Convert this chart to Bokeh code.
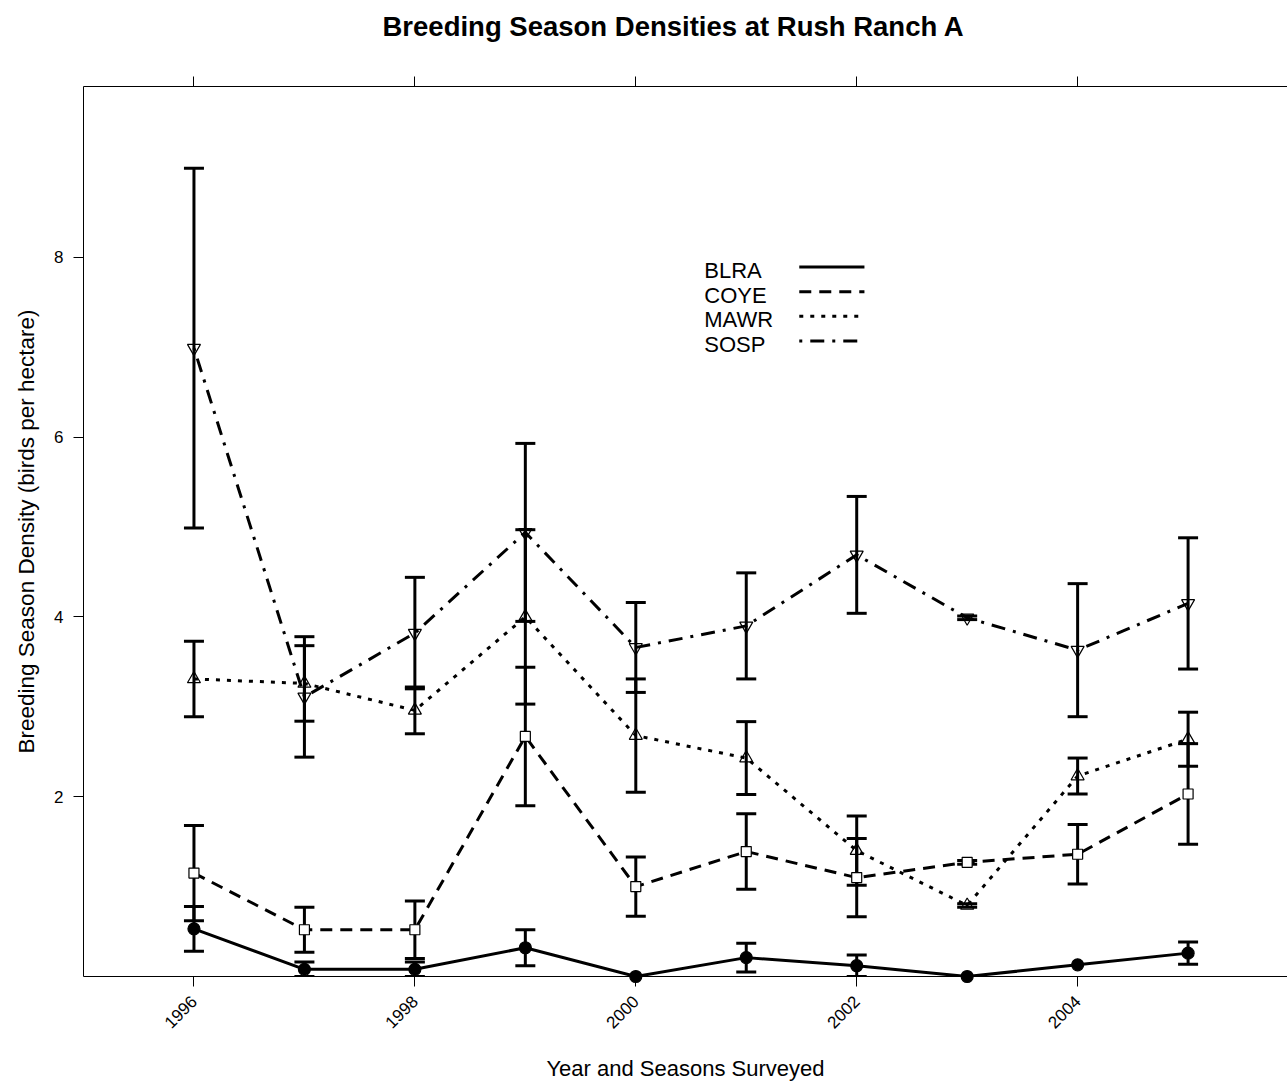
from bokeh.plotting import figure
from bokeh.models import (Range1d, LinearAxis, FixedTicker, Whisker, TeeHead,
                          ColumnDataSource, Title)
from bokeh.core.properties import value
from bokeh.embed import file_html
from bokeh.resources import INLINE
import math

# Survey years
years = [1996, 1997, 1998, 1999, 2000, 2001, 2002, 2003, 2004, 2005]

# Mean breeding season densities (birds per hectare) and their error half-widths
blra = [0.53, 0.08, 0.08, 0.32, 0.00, 0.21, 0.12, 0.00, 0.13, 0.26]
blra_err = [0.25, 0.08, 0.08, 0.20, 0.00, 0.16, 0.12, 0.00, 0.00, 0.125]

coye = [1.15, 0.52, 0.52, 2.67, 1.00, 1.39, 1.10, 1.27, 1.36, 2.03]
coye_err = [0.53, 0.25, 0.32, 0.77, 0.33, 0.42, 0.435, 0.02, 0.33, 0.56]

mawr = [3.31, 3.26, 2.96, 4.00, 2.68, 2.43, 1.40, 0.79, 2.23, 2.64]
mawr_err = [0.42, 0.42, 0.26, 0.97, 0.63, 0.405, 0.385, 0.02, 0.20, 0.30]

sosp = [6.99, 3.11, 3.82, 4.94, 3.66, 3.90, 4.69, 3.99, 3.63, 4.15]
sosp_err = [2.00, 0.67, 0.62, 0.99, 0.50, 0.59, 0.65, 0.02, 0.74, 0.73]

species = ["BLRA", "COYE", "MAWR", "SOSP"]
x_ticks = [1996, 1998, 2000, 2002, 2004]
y_ticks = [2, 4, 6, 8]

FONT = "Liberation Sans"

p = figure(width=1287, height=1085,
           x_range=Range1d(1995, 2005.9), y_range=Range1d(0, 9.9),
           x_axis_type=None, y_axis_type=None,
           output_backend="svg", toolbar_location=None,
           min_border_left=83, min_border_right=0,
           min_border_top=86, min_border_bottom=109,
           background_fill_color="white", border_fill_color="white")
p.outline_line_color = None
p.xgrid.visible = False
p.ygrid.visible = False


def style_axis(ax):
    ax.axis_line_color = "black"
    ax.axis_line_width = 1
    ax.major_tick_line_color = "black"
    ax.major_tick_out = 10
    ax.major_tick_in = 0
    ax.minor_tick_line_color = None
    ax.major_label_text_font = FONT
    ax.major_label_text_color = "black"
    ax.axis_label_text_font = FONT
    ax.axis_label_text_font_style = "normal"
    ax.axis_label_text_color = "black"


bottom = LinearAxis(ticker=FixedTicker(ticks=x_ticks),
                    axis_label="Year and Seasons Surveyed")
style_axis(bottom)
bottom.major_label_text_font_size = "17px"
bottom.major_label_orientation = math.pi / 4
bottom.major_label_standoff = 12
bottom.axis_label_text_font_size = "22px"
bottom.axis_label_standoff = 19
p.add_layout(bottom, "below")

# Upper frame edge with tick marks only
top = LinearAxis(ticker=FixedTicker(ticks=x_ticks))
style_axis(top)
top.major_label_text_color = None
top.major_label_standoff = 0
p.add_layout(top, "above")

# Blank gap between the upper tick marks and the title
p.add_layout(Title(text=" ", text_font_size="10px", standoff=17), "above")

# Title
p.title.text = "Breeding Season Densities at Rush Ranch A"
p.title.align = "left"
p.title.offset = 299
p.title.vertical_align = "bottom"
p.title.standoff = 10
p.title.text_font = FONT
p.title.text_font_size = "27.5px"
p.title.text_font_style = "bold"
p.title.text_color = "black"

left = LinearAxis(ticker=FixedTicker(ticks=y_ticks),
                  axis_label="Breeding Season Density (birds per hectare)")
style_axis(left)
left.major_label_text_font_size = "17px"
left.major_label_standoff = 10
left.major_label_orientation = 0
left.axis_label_text_font_size = "22.5px"
left.axis_label_standoff = 12
p.add_layout(left, "left")

series = [
    (blra, blra_err, None, "circle", "black"),
    (coye, coye_err, "12 8", "square", "white"),
    (mawr, mawr_err, "4 7", "triangle", None),
    (sosp, sosp_err, "3 8 14 8", "inverted_triangle", None),
]
marker_size = {"circle": 12, "square": 10, "triangle": 13, "inverted_triangle": 13}

for vals, errs, dash, marker, fill in series:
    # connecting line
    if dash is None:
        p.line(years, vals, line_color="black", line_width=3)
    else:
        p.line(years, vals, line_color="black", line_width=3, line_dash=dash)

    # error bars
    xs = [x for x, e in zip(years, errs) if e > 0]
    lo = [v - e for v, e in zip(vals, errs) if e > 0]
    hi = [v + e for v, e in zip(vals, errs) if e > 0]
    src = ColumnDataSource(dict(x=xs, lo=lo, hi=hi))
    wk = Whisker(source=src, base="x", lower="lo", upper="hi",
                 dimension="height", line_color="black", line_width=3,
                 lower_head=TeeHead(size=20, line_color="black", line_width=3),
                 upper_head=TeeHead(size=20, line_color="black", line_width=3))
    p.add_layout(wk)

    # point symbols
    p.scatter(years, vals, marker=marker, size=marker_size[marker],
              line_color="black", line_width=1.2,
              fill_color=fill, level="overlay")

# Legend: label on the left, line sample on the right
leg_text_x = 2000.62
leg_line_x0, leg_line_x1 = 2001.48, 2002.07
leg_y0, leg_step, leg_line_off = 7.853, 0.2745, 0.039
leg_dashes = [None, "12 8", "4 7", "3 8 14 8"]
for i, (name, dash) in enumerate(zip(species, leg_dashes)):
    yb = leg_y0 - i * leg_step
    p.text(x=[leg_text_x], y=[yb], text=[name], text_font=value(FONT),
           text_font_size="22px", text_color="black",
           text_align="left", text_baseline="alphabetic")
    yl = yb + leg_line_off
    if dash is None:
        p.line([leg_line_x0, leg_line_x1], [yl, yl], line_color="black", line_width=3)
    else:
        p.line([leg_line_x0, leg_line_x1], [yl, yl], line_color="black",
               line_width=3, line_dash=dash)

open("out.html", "w").write(file_html(p, INLINE))
